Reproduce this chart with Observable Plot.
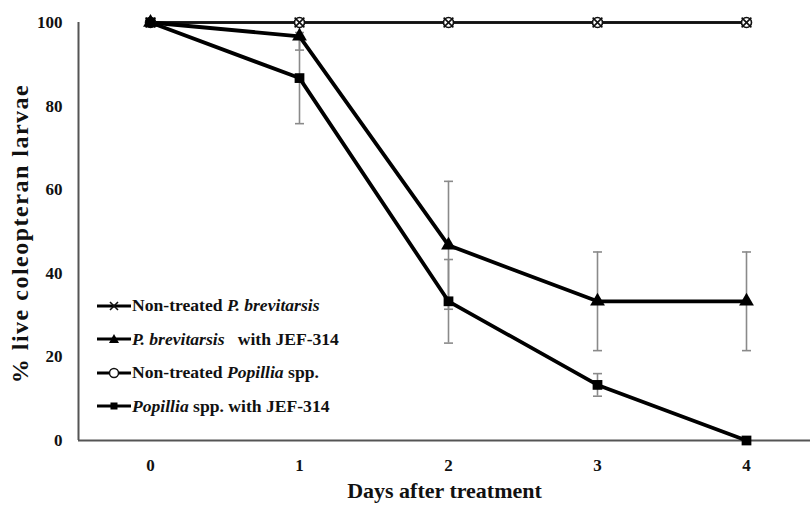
<!DOCTYPE html>
<html>
<head>
<meta charset="utf-8">
<script src="https://cdn.jsdelivr.net/npm/d3@7"></script>
<script src="https://cdn.jsdelivr.net/npm/@observablehq/plot@0.6"></script>
<style>
  html, body { margin: 0; padding: 0; background: #fff; }
  #wrap { position: relative; width: 810px; height: 513px; font-family: 'Liberation Serif', 'Times New Roman', serif; }
  #legend { position: absolute; left: 97px; top: 289px; font-weight: bold; font-size: 17.6px; color: #111; font-family: 'Liberation Serif', 'Times New Roman', serif; }
  #legend .row { display: flex; align-items: center; height: 33.5px; }
  #legend svg { margin-right: 1px; }
</style>
</head>
<body>
<div id="wrap"></div>
<script>
// ---- data ----
const days = [0, 1, 2, 3, 4];
const xTicks = [0, 1, 2, 3, 4];
const yTicks = [0, 20, 40, 60, 80, 100];

const nonTreatedBrev = [100, 100, 100, 100, 100];
const brevJEF = [100, 96.7, 46.7, 33.3, 33.3];
const brevJEFErr = [0, 3.3, 15.3, 11.8, 11.8];
const nonTreatedPop = [100, 100, 100, 100, 100];
const popJEF = [100, 86.7, 33.3, 13.3, 0];
const popJEFErr = [0, 10.9, 10, 2.7, 0];

const seriesNames = [
  "Non-treated P. brevitarsis",
  "P. brevitarsis with JEF-314",
  "Non-treated Popillia spp.",
  "Popillia spp. with JEF-314"
];

const toRows = (name, vals, errs) => days.map((d, i) => ({
  series: name, day: d, value: vals[i], err: errs ? errs[i] : 0
}));
const rowsNTB = toRows(seriesNames[0], nonTreatedBrev);
const rowsBJ = toRows(seriesNames[1], brevJEF, brevJEFErr);
const rowsNTP = toRows(seriesNames[2], nonTreatedPop);
const rowsPJ = toRows(seriesNames[3], popJEF, popJEFErr);
const errRows = [...rowsBJ, ...rowsPJ].filter(d => d.err > 0);

const cap = { draw(ctx, size) { const w = 4.5; ctx.moveTo(-w, 0); ctx.lineTo(w, 0); } };

const serif = "'Liberation Serif', 'Times New Roman', serif";
const yTitle = "% live coleopteran larvae";
const xTitle = "Days after treatment";

const chart = Plot.plot({
  width: 810,
  height: 513,
  marginLeft: 78,
  marginRight: 0,
  marginTop: 22,
  marginBottom: 73,
  style: { fontFamily: serif, background: "transparent", overflow: "visible" },
  x: { domain: [-0.4832, 4.4295], ticks: xTicks },
  y: { domain: [0, 100], ticks: yTicks },
  marks: [
    Plot.axisY({ ticks: yTicks, tickSize: 0, tickPadding: 16, fontSize: 17, fontWeight: "bold", fill: "#111", label: null, fontFamily: serif }),
    Plot.axisX({ ticks: xTicks, tickSize: 0, tickPadding: 18, fontSize: 17, fontWeight: "bold", fill: "#111", label: null, tickFormat: d3.format("d"), fontFamily: serif }),
    Plot.ruleX([0], { x: () => -0.4832, stroke: "#555", strokeWidth: 2 }),
    Plot.ruleY([0], { stroke: "#555", strokeWidth: 2 }),
    // error bars
    Plot.ruleX(errRows, { x: "day", y1: d => d.value - d.err, y2: d => Math.min(100, d.value + d.err), stroke: "#8a8a8a", strokeWidth: 1.6 }),
    Plot.dot(errRows, { x: "day", y: d => d.value - d.err, symbol: cap, stroke: "#8a8a8a", strokeWidth: 1.6, r: 4 }),
    Plot.dot(errRows.filter(d => d.value + d.err < 100), { x: "day", y: d => d.value + d.err, symbol: cap, stroke: "#8a8a8a", strokeWidth: 1.6, r: 4 }),
    // lines
    Plot.line(rowsNTB, { x: "day", y: "value", stroke: "#111", strokeWidth: 2.5 }),
    Plot.line(rowsNTP, { x: "day", y: "value", stroke: "#111", strokeWidth: 2.5 }),
    Plot.line(rowsBJ, { x: "day", y: "value", stroke: "#000", strokeWidth: 3.8 }),
    Plot.line(rowsPJ, { x: "day", y: "value", stroke: "#000", strokeWidth: 3.8 }),
    // markers
    Plot.dot(rowsNTP, { x: "day", y: "value", symbol: "circle", r: 5, fill: "#fff", stroke: "#111", strokeWidth: 1.6 }),
    Plot.dot(rowsNTB, { x: "day", y: "value", symbol: "times", r: 4.5, stroke: "#111", strokeWidth: 1.6 }),
    Plot.dot(rowsBJ, { x: "day", y: "value", symbol: "triangle", r: 5.5, fill: "#000" }),
    Plot.dot(rowsPJ, { x: "day", y: "value", symbol: "square", r: 5.5, fill: "#000" }),
    // axis titles
    Plot.text([xTitle], { frameAnchor: "bottom", dy: 57, text: d => d, fontSize: 22, fontWeight: "bold", fill: "#111", fontFamily: serif }),
    Plot.text([yTitle], { frameAnchor: "left", textAnchor: "middle", dx: -58, dy: 2, rotate: -90, text: d => d, fontSize: 24, fontWeight: "bold", fill: "#111", fontFamily: serif })
  ]
});

d3.select(chart).selectAll("text").filter(function() { return this.textContent === yTitle; })
  .style("letter-spacing", "1.5px");

const wrap = document.getElementById("wrap");
wrap.appendChild(chart);

// legend
const legendItems = [
  { sym: "times", html: 'Non-treated <i>P. brevitarsis</i>' },
  { sym: "triangle", html: '<i>P. brevitarsis</i>&nbsp;&nbsp; with JEF-314' },
  { sym: "circle", html: 'Non-treated <i>Popillia</i> spp.' },
  { sym: "square", html: '<i>Popillia</i> spp. with JEF-314' }
];
const symPath = {
  times: '<path d="M13 3L21 11M21 3L13 11" stroke="#111" stroke-width="1.6" fill="none"/>',
  triangle: '<path d="M17 2L22 11L12 11Z" fill="#000"/>',
  circle: '<circle cx="17" cy="7" r="4.5" fill="#fff" stroke="#111" stroke-width="1.5"/>',
  square: '<rect x="13.5" y="3.5" width="7" height="7" fill="#000"/>'
};
const leg = document.createElement("div");
leg.id = "legend";
leg.innerHTML = legendItems.map(it =>
  `<div class="row"><svg width="34" height="14"><line x1="0" x2="34" y1="7" y2="7" stroke="#000" stroke-width="3"/>${symPath[it.sym]}</svg><span>${it.html}</span></div>`
).join("");
wrap.appendChild(leg);
</script>
</body>
</html>
